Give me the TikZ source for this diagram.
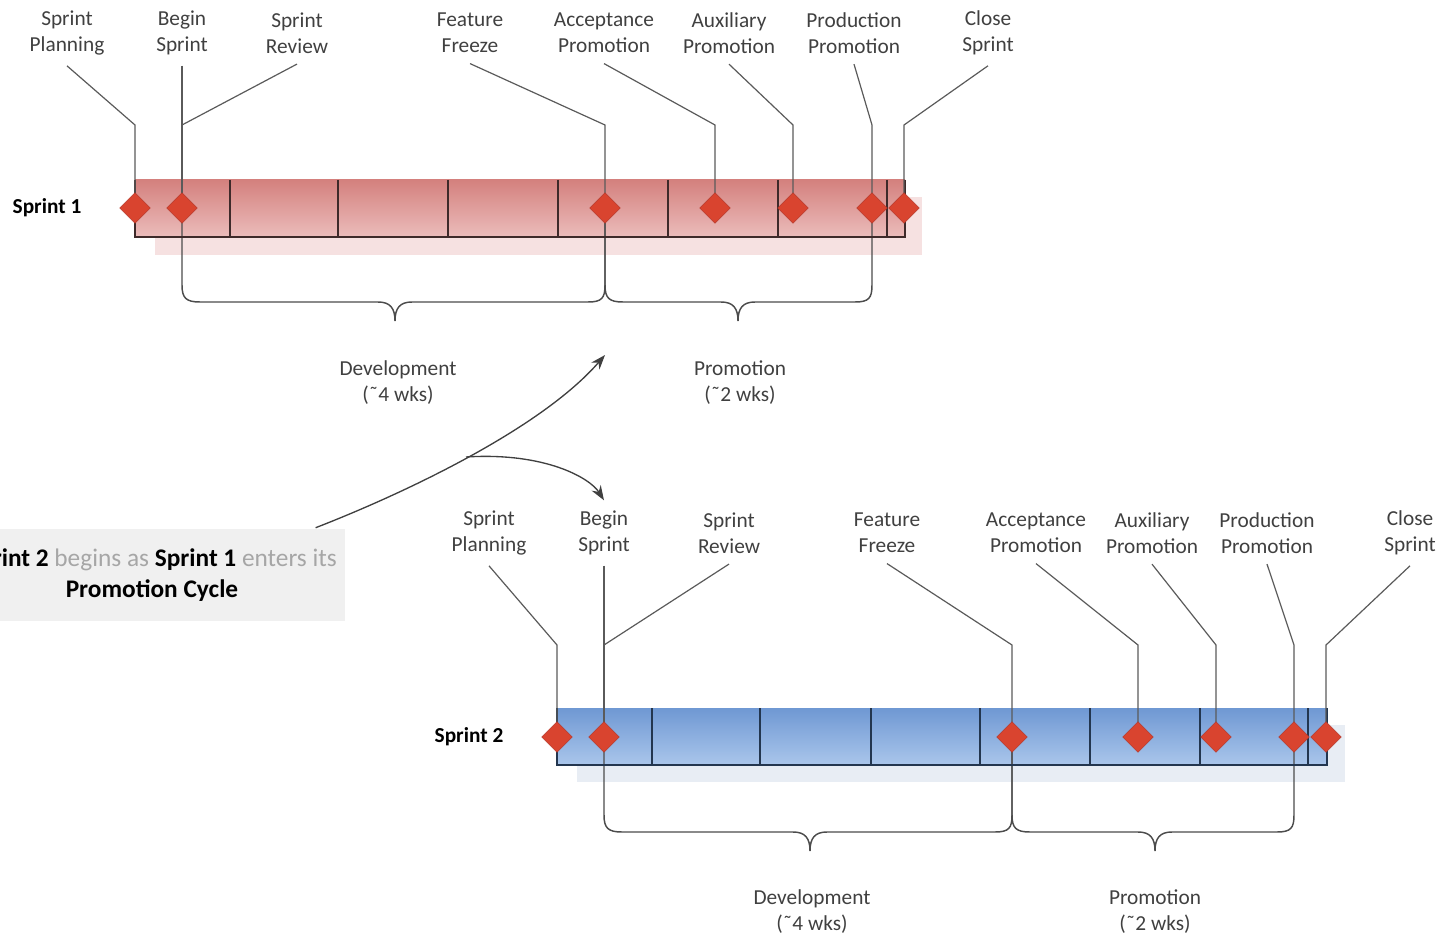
\documentclass[tikz,border=0pt]{standalone}
\usepackage{fontspec}
\setmainfont{Carlito}
\usetikzlibrary{shapes.geometric,arrows.meta,calc}
\definecolor{lbl}{HTML}{404040}
\definecolor{connc}{HTML}{5A5A5A}
\definecolor{redtop}{HTML}{D4817E}
\definecolor{redbot}{HTML}{EBBCBB}
\definecolor{redshadow}{HTML}{F6E1E1}
\definecolor{redline}{HTML}{3E2A2A}
\definecolor{bluetop}{HTML}{6F98D3}
\definecolor{bluebot}{HTML}{AAC6EB}
\definecolor{blueshadow}{HTML}{E8EDF4}
\definecolor{blueline}{HTML}{23364F}
\definecolor{diam}{HTML}{D9442F}
\definecolor{diamedge}{HTML}{B8382A}
\definecolor{callbg}{HTML}{F0F0F0}
\definecolor{softgray}{HTML}{A6A6A6}
\begin{document}
\begin{tikzpicture}[x=0.75pt,y=-0.75pt,
  ms/.style={font=\fontsize{16}{19.5}\selectfont, text=lbl, align=center, inner sep=0pt, outer sep=8pt},
  sprintlbl/.style={font=\fontsize{16}{19.5}\selectfont\bfseries, text=black, inner sep=0pt},
  phase/.style={font=\fontsize{16}{19.5}\selectfont, text=lbl, align=center, inner sep=0pt},
  connl/.style={draw=connc, line width=0.9pt},
  mile/.style={diamond, aspect=1, minimum size=23pt, inner sep=0pt, fill=diam, draw=diamedge, line width=0.4pt},
  bracel/.style={draw=connc!85!black, line width=1.1pt},
  divr/.style={draw=redline, line width=1.1pt},
  divb/.style={draw=blueline, line width=1.1pt},
  arr/.style={draw=black!75, line width=1pt, -{Stealth[length=11pt,width=8pt]}},
  callbox/.style={fill=callbg, inner sep=0pt, minimum width=290pt, minimum height=69pt, align=center,
    font=\fontsize{19}{23.25}\selectfont, text=black},
]
\useasboundingbox (0,0) rectangle (1446,938);
\clip (0,0) rectangle (1446,938);

% ================= Sprint 1 =================
\fill[redshadow] (155,197) rectangle (922,255);
\shade[top color=redtop, bottom color=redbot] (135,180) rectangle (905,237);

\node[sprintlbl] (s1) at (47,208) {Sprint 1};

\node[ms] (l1a) at (67,33)  {Sprint\\Planning};
\node[ms] (l1b) at (182,33) {Begin\\Sprint};
\node[ms] (l1c) at (297,33) {Sprint\\Review};
\node[ms] (l1d) at (470,33) {Feature\\Freeze};
\node[ms] (l1e) at (604,33) {Acceptance\\Promotion};
\node[ms] (l1f) at (729,33) {Auxiliary\\Promotion};
\node[ms] (l1g) at (854,33) {Production\\Promotion};
\node[ms] (l1h) at (988,33) {Close\\Sprint};

\coordinate (d1a) at (135,208);
\coordinate (d1b) at (182,208);
\coordinate (d1c) at (605,208);
\coordinate (d1d) at (715,208);
\coordinate (d1e) at (793,208);
\coordinate (d1f) at (872,208);
\coordinate (d1g) at (904,208);

% braces
\draw[bracel] (d1b) -- (182,285) .. controls (182,298) and (186,302) .. (200,302) -- (378,302)
  .. controls (390,302) and (395,308) .. (395,321) .. controls (395,308) and (400,302) .. (412,302)
  -- (588,302) .. controls (602,302) and (605,298) .. (605,285) -- (d1c);
\draw[bracel] (d1c) -- (605,285) .. controls (605,298) and (609,302) .. (623,302) -- (721,302)
  .. controls (733,302) and (738,308) .. (738,321) .. controls (738,308) and (743,302) .. (755,302)
  -- (855,302) .. controls (869,302) and (872,298) .. (872,285) -- (d1f);

% bar lines
\draw[divr] (135,180) -- (135,237) -- (905,237) -- (905,180);
\foreach \x in {230,338,448,558,668,778,887} \draw[divr] (\x,180) -- (\x,237);

% connectors
\draw[connl] (l1a.south) -- (d1a |- 0,125) -- (d1a);
\draw[connl] (l1b.south) -- (d1b);
\draw[connl] (l1c.south) -- (d1b |- 0,125);
\draw[connl] (l1d.south) -- (d1c |- 0,125) -- (d1c);
\draw[connl] (l1e.south) -- (d1d |- 0,125) -- (d1d);
\draw[connl] (l1f.south) -- (d1e |- 0,125) -- (d1e);
\draw[connl] (l1g.south) -- (d1f |- 0,125) -- (d1f);
\draw[connl] (l1h.south) -- (d1g |- 0,125) -- (d1g);

\foreach \n in {d1a,d1b,d1c,d1d,d1e,d1f,d1g} \node[mile] at (\n) {};

\node[phase] (p1d) at (398,383) {Development\\(˜4 wks)};
\node[phase] (p1p) at (740,383) {Promotion\\(˜2 wks)};

% ================= Sprint 2 =================
\fill[blueshadow] (577,725) rectangle (1345,782);
\shade[top color=bluetop, bottom color=bluebot] (557,708) rectangle (1327,765);

\node[sprintlbl] (s2) at (469,737) {Sprint 2};

\node[ms] (l2a) at (489,533)  {Sprint\\Planning};
\node[ms] (l2b) at (604,533)  {Begin\\Sprint};
\node[ms] (l2c) at (729,533)  {Sprint\\Review};
\node[ms] (l2d) at (887,533)  {Feature\\Freeze};
\node[ms] (l2e) at (1036,533) {Acceptance\\Promotion};
\node[ms] (l2f) at (1152,533) {Auxiliary\\Promotion};
\node[ms] (l2g) at (1267,533) {Production\\Promotion};
\node[ms] (l2h) at (1410,533) {Close\\Sprint};

\coordinate (d2a) at (557,737);
\coordinate (d2b) at (604,737);
\coordinate (d2c) at (1012,737);
\coordinate (d2d) at (1138,737);
\coordinate (d2e) at (1216,737);
\coordinate (d2f) at (1294,737);
\coordinate (d2g) at (1326,737);

\draw[bracel] (d2b) -- (604,815) .. controls (604,828) and (608,832) .. (622,832) -- (793,832)
  .. controls (805,832) and (810,838) .. (810,851) .. controls (810,838) and (815,832) .. (827,832)
  -- (995,832) .. controls (1009,832) and (1012,828) .. (1012,815) -- (d2c);
\draw[bracel] (d2c) -- (1012,815) .. controls (1012,828) and (1016,832) .. (1030,832) -- (1138,832)
  .. controls (1150,832) and (1155,838) .. (1155,851) .. controls (1155,838) and (1160,832) .. (1172,832)
  -- (1277,832) .. controls (1291,832) and (1294,828) .. (1294,815) -- (d2f);

\draw[divb] (557,708) -- (557,765) -- (1327,765) -- (1327,708);
\foreach \x in {652,760,871,980,1090,1200,1308} \draw[divb] (\x,708) -- (\x,765);

\draw[connl] (l2a.south) -- (d2a |- 0,645) -- (d2a);
\draw[connl] (l2b.south) -- (d2b);
\draw[connl] (l2c.south) -- (d2b |- 0,645);
\draw[connl] (l2d.south) -- (d2c |- 0,645) -- (d2c);
\draw[connl] (l2e.south) -- (d2d |- 0,645) -- (d2d);
\draw[connl] (l2f.south) -- (d2e |- 0,645) -- (d2e);
\draw[connl] (l2g.south) -- (d2f |- 0,645) -- (d2f);
\draw[connl] (l2h.south) -- (d2g |- 0,645) -- (d2g);

\foreach \n in {d2a,d2b,d2c,d2d,d2e,d2f,d2g} \node[mile] at (\n) {};

\node[phase] (p2d) at (812,912) {Development\\(˜4 wks)};
\node[phase] (p2p) at (1155,912) {Promotion\\(˜2 wks)};

% ================= Callout =================
\node[callbox] (call) at (152,575) {\textbf{Sprint 2} {\color{softgray}begins as} \textbf{Sprint 1} {\color{softgray}enters its}\\\textbf{Promotion Cycle}};

\coordinate (tip1) at (605,355);
\coordinate (fork) at (466,457);
\draw[arr] ($(call.north east)+(-30,-1)$) .. controls (400,495) and (540,430) .. (tip1);
\draw[arr] (fork) .. controls (545,452) and (590,478) .. (l2b.north);
\end{tikzpicture}
\end{document}
